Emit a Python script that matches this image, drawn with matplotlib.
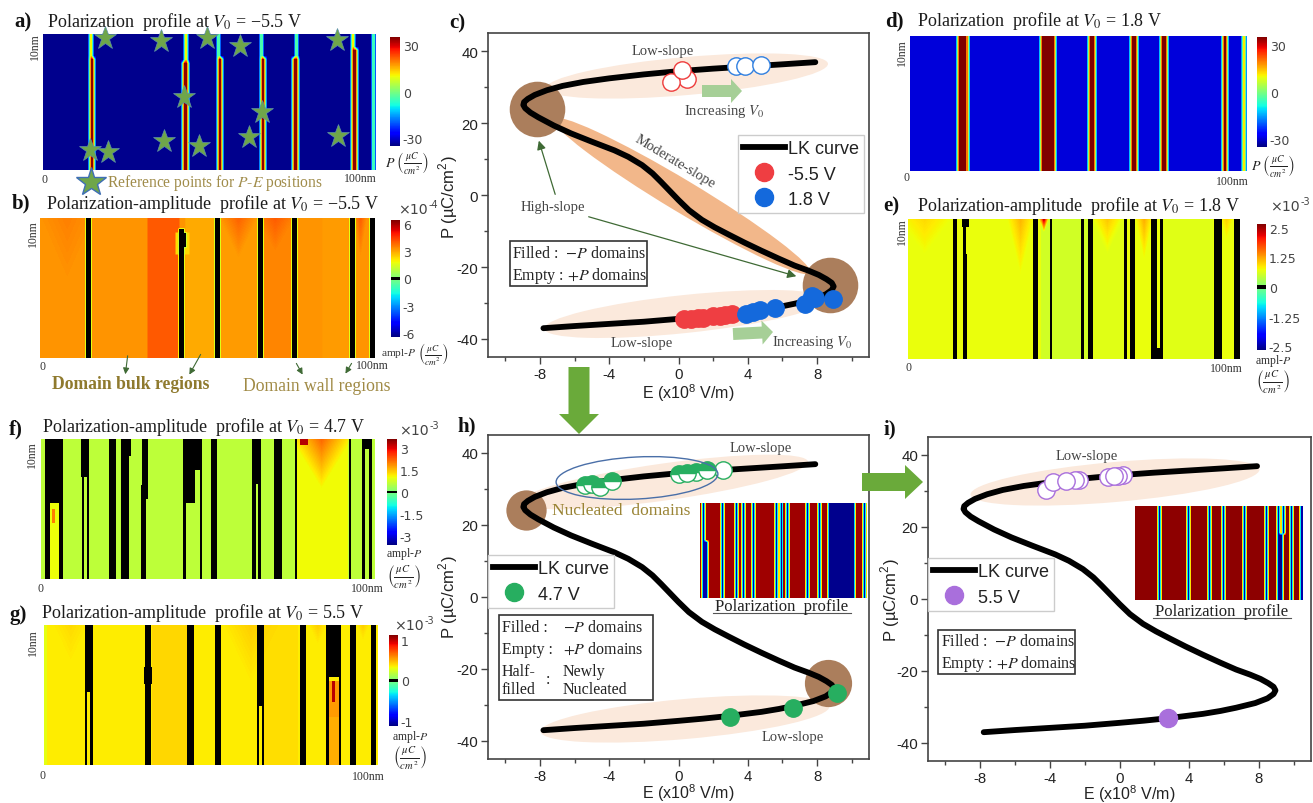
#!/usr/bin/env python3
"""
Composite figure: polarization / amplitude profiles and P-E (LK) curves, panels a-i
"""

import matplotlib
matplotlib.use('Agg')
import matplotlib.pyplot as plt
import matplotlib.patches as mpatches
import numpy as np
from matplotlib.colors import ListedColormap
from matplotlib.lines import Line2D
from matplotlib.patches import Ellipse

plt.rcParams['font.family'] = 'Liberation Serif'
plt.rcParams['mathtext.fontset'] = 'stix'
plt.rcParams['axes.unicode_minus'] = False

W, H = 1313, 804

# LK curve, E in 1e8 V/m and P in uC/cm2
lk_e = [7.9, 6.0, 4.0, 2.0, 0.0, -2.0, -4.0, -5.5, -6.7, -7.6, -8.3, -8.7, -8.92, -8.96, -8.85, -8.55, -8.1,
        -7.2, -6.2, -5.0, -3.7, -2.9, -2.1, -1.5, -1.0, -0.5, 0.0, 0.6, 1.35, 2.1, 2.9, 3.8,
        4.8, 5.8, 6.7, 7.5, 8.1, 8.55, 8.85, 8.96, 8.85, 8.5, 7.8, 6.7, 5.8, 4.8, 3.8, 2.8, 1.4, 0.0,
        -2.0, -4.0, -6.0, -7.8]
lk_p = [36.9, 36.3, 35.7, 35.1, 34.4, 33.5, 32.4, 31.4, 30.3, 29.1, 27.8, 26.7, 25.8, 25.0, 24.1, 22.9, 21.6,
        19.3, 17.1, 14.8, 12.4, 10.6, 8.3, 6.0, 3.6, 1.1, -1.4, -4.2, -6.9, -9.0, -11.0, -13.2,
        -15.5, -17.7, -19.6, -21.0, -22.2, -23.4, -24.4, -25.4, -26.4, -27.6, -28.9, -30.2, -31.1, -31.9, -32.5, -33.1, -33.8, -34.4,
        -35.2, -35.8, -36.4, -37.0]

# operating points panel c
c_red_open_e = [0.5, -0.45, 0.2]
c_red_open_p = [32.1, 31.4, 34.6]
c_blue_open_e = [3.3, 3.85, 4.75]
c_blue_open_p = [35.7, 35.7, 36.0]
c_red_e = [0.3, 0.7, 1.1, 1.4, 2.0, 2.4, 2.7, 3.1]
c_red_p = [-34.5, -34.4, -34.2, -34.2, -33.7, -33.6, -33.4, -33.0]
c_blue_e = [3.9, 4.3, 4.7, 5.6, 7.3, 7.7, 7.9, 8.9]
c_blue_p = [-33.0, -32.5, -32.0, -31.5, -30.2, -28.0, -28.5, -29.0]
c_high_e = [-8.15, 8.75]
c_high_p = [24.0, -25.0]

# operating points panel h
h_half_e = [-5.4, -5.0, -4.55, -3.85, 0.05, 1.0, 0.5, 1.67]
h_half_p = [31.0, 31.3, 30.6, 32.2, 34.3, 34.7, 34.5, 35.2]
h_open_e = [2.55]
h_open_p = [35.3]
h_filled_e = [3.0, 6.6, 9.15]
h_filled_p = [-33.3, -30.9, -26.6]
h_high_e = [-8.8, 8.65]
h_high_p = [24.2, -23.8]

# operating points panel i
i_open_e = [-4.25, -3.8, -2.35, -2.55, -3.1, 0.2, -0.67, -0.1, -0.3]
i_open_p = [30.4, 32.5, 33.1, 33.1, 32.9, 34.5, 34.0, 34.3, 34.3]
i_filled_e = [2.8]
i_filled_p = [-33.0]

# reference stars panel a, x in nm, y as fraction of the height from the top
star_x = [18.6, 35.4, 49.2, 59.1, 88.3, 42.2, 65.7, 88.6, 61.8, 36.3, 46.9, 14.1, 19.6]
star_y = [0.03, 0.054, 0.032, 0.091, 0.042, 0.462, 0.577, 0.749, 0.757, 0.786, 0.825, 0.852, 0.865]

# profile walls: (x0 nm, x1 nm, y0, y1, value)
walls_a = [(13.9, 14.7, 0, .17, 25), (13.8, 15.4, .17, 1, 34), (42.3, 43.1, 0, .2, 25), (41.7, 43.3, .2, 1, 34),
           (52.3, 53.1, 0, .17, 25), (52.4, 54.0, .17, 1, 34), (65.2, 66.0, 0, .17, 25), (65.3, 66.9, .17, 1, 34),
           (75.6, 76.4, 0, .17, 25), (75.0, 76.6, .17, 1, 34), (92.6, 93.4, 0, .1, 25), (92.6, 94.2, .1, 1, 34),
           (98.7, 99.3, 0, 1, 22)]
zones_b = [(32, 41.5, 4.0), (43.5, 52, 2.9), (53.5, 65, 3.1), (66.5, 75, 3.4), (84, 92, 3.1)]
wedges_b = [(8, 9, .5, 3.5), (59, 6, .3, 3.9), (70, 6, .25, 4.0), (95.5, 2, .3, 4.0)]
walls_b = [(40.5, 44.5, .1, .26, 2.3), (13.6, 15.4, 0, 1, 0), (41.4, 43.2, .07, 1, 0), (41.5, 43.8, .1, .21, 0), (51.9, 53.7, 0, 1, 0),
           (64.7, 66.5, 0, 1, 0), (74.9, 76.7, 0, 1, 0), (92.1, 93.9, 0, 1, 0), (98.1, 99.9, 0, 1, 0)]
walls_d = [(14.1, 17.1, 0, 1, 36), (38.7, 43.1, 0, 1, 36), (52.6, 54.8, 0, 1, 36), (65.3, 67.5, 0, 1, 36),
           (74.2, 76.4, 0, 1, 36), (92.5, 93.9, 0, 1, 36), (98.6, 99.3, 0, 1, 25)]
zones_e = [(40, 55, .55), (55, 65, .65), (77, 92, .65)]
wedges_e = [(5, 8, .25, .95), (34, 4, .4, 1.15), (41, 1.5, .1, 2.6), (60, 5, .25, 1.05), (71, 2.6, .3, 1.2), (96, 2, .15, 1.0)]
walls_e = [(13.6, 14.6, 0, 1, 0), (16.6, 17.6, .25, 1, 0), (16.2, 18.2, 0, .06, 0), (16.4, 17.4, 0, .25, 0), (37.7, 39.1, 0, 1, 0),
           (42.7, 43.5, 0, 1, 0), (52.1, 53.0, 0, 1, 0), (54.2, 55.6, 0, 1, 0), (65.0, 65.9, 0, 1, 0), (66.9, 68.3, 0, 1, 0),
           (73.2, 74.8, 0, 1, 0), (75.9, 76.9, 0, 1, 0), (73.5, 76.8, .92, 1, 0), (92.3, 94.7, 0, 1, 0), (98.3, 99.9, 0, 1, 0)]
zones_f = [(76.7, 92, 1.05), (2.7, 5.3, 1.0)]
wedges_f = [(84, 9, .35, 2.2)]
walls_f = [(77.5, 80, 0, .04, 3.3), (3.3, 4.3, .5, .6, 2.0), (1.3, 6.7, 0, .46, 0), (1.3, 2.7, 0, 1, 0), (5.3, 6.7, 0, 1, 0), (12, 14.5, 0, .27, 0), (12.2, 13, 0, 1, 0),
           (13.7, 14.5, 0, 1, 0), (20.3, 22.5, 0, 1, 0), (24.1, 26.3, 0, 1, 0), (24, 26.8, 0, .12, 0), (30.2, 32, 0, .33, 0),
           (30, 32, .33, .43, 0), (30, 31.5, .43, 1, 0), (42.5, 48.3, 0, .22, 0), (43.5, 46, .22, .46, 0), (42.5, 43.3, 0, 1, 0),
           (47.5, 48.3, 0, 1, 0), (50.9, 52.7, 0, 1, 0), (63.3, 65.8, 0, .32, 0), (63.3, 64.3, 0, 1, 0), (65, 65.8, 0, 1, 0),
           (69.8, 72.2, 0, 1, 0), (75.9, 76.7, 0, 1, 0), (92.1, 92.9, 0, 1, 0), (96.1, 99, 0, .07, 0), (96.1, 96.9, 0, 1, 0),
           (98.3, 99, 0, 1, 0)]
zones_g = [(32.3, 43, .41), (66, 76, .39), (0, 1.0, .28)]
wedges_g = [(8, 6, .3, .40), (62, 9, .45, .43), (82, 3, .15, .43), (95.5, 2, .12, .43)]
walls_g = [(12.8, 14.6, 0, .48, 0), (12.2, 13, 0, 1, 0), (13.8, 14.6, 0, 1, 0), (30.2, 32, 0, .3, 0), (30, 32.3, .3, .42, 0),
           (30.2, 31.9, .42, 1, 0), (42.9, 44.9, 0, 1, 0), (51.1, 53.1, 0, 1, 0), (64.2, 65.9, 0, .58, 0), (63.7, 64.5, 0, 1, 0),
           (65.3, 65.9, 0, 1, 0), (76.5, 78.3, 0, 1, 0), (84.5, 89, 0, .37, 0), (84.5, 85.3, 0, 1, 0), (88.2, 89, 0, 1, 0),
           (85.3, 88.2, .4, .66, .55), (85.3, 88.2, .66, 1, .5), (86.2, 87.2, .4, .55, 1.0), (91.7, 93.3, 0, 1, 0), (97.8, 99.5, 0, 1, 0)]
walls_h_inset = [(1, 4.5, .4, 1, -32), (1, 2.8, 0, .4, -32), (12.5, 14.3, 0, 1, -32), (20.9, 22.7, 0, 1, -32), (24.9, 26.7, 0, 1, -32),
                 (30.9, 32.7, 0, 1, -32), (44.8, 46.6, 0, 1, -32), (47.8, 49.6, 0, 1, -32), (51.8, 53.6, 0, 1, -32),
                 (63.7, 65.5, 0, 1, -32), (70.7, 72.5, 0, 1, -32), (76.7, 92.6, 0, 1, -34), (97.4, 99.2, 0, 1, -32)]
walls_i_inset = [(13.5, 15.3, 0, 1, -32), (30.8, 32.6, 0, 1, -32), (43.7, 45.5, 0, 1, -32), (51.7, 53.5, 0, 1, -32),
                 (64.2, 66, 0, 1, -32), (77.1, 78.9, 0, 1, -32), (84.5, 86.3, 0, 1, -32), (85.8, 88, .3, 1, -34),
                 (87.5, 89.3, 0, .3, -32), (92.4, 94.2, 0, 1, -32), (98.2, 100, 0, 1, -32)]

cb_ticks_a = [30, 0, -30]
cb_ticks_b = [6, 3, 0, -3, -6]
cb_ticks_e = [2.5, 1.25, 0, -1.25, -2.5]
cb_ticks_f = [3, 1.5, 0, -1.5, -3]
cb_ticks_g = [1, 0, -1]

# jet with a thin black band at zero, that is what draws the walls in the ampl-P maps
jet_vals = plt.get_cmap('jet')(np.linspace(0, 1, 512))
jet_vals[249:263] = [0, 0, 0, 1]
jet_black = ListedColormap(jet_vals)


def build_field(base, zones=(), wedges=(), walls=(), nx=334, ny=140, soft=2):
    # one cell is about one output pixel
    x = (np.arange(nx) + .5) / nx * 100
    y = (np.arange(ny) + .5) / ny
    grid = np.full((ny, nx), float(base))
    for x0, x1, v in zones:
        grid[:, (x >= x0) & (x < x1)] = v
    X, Y = np.meshgrid(x, y)
    for xc, half, depth, v in wedges:
        t = np.clip(1 - np.abs(X - xc) / half - Y / depth, 0, 1)
        grid = grid + t * (v - grid)
    for x0, x1, y0, y1, v in walls:
        grid[(X >= x0) & (X < x1) & (Y >= y0) & (Y < y1)] = v
    # soften along x and y, the source image is a blurred raster
    grid = np.pad(grid, soft, mode='edge')
    kernel = np.ones(soft) / soft
    grid = np.apply_along_axis(lambda r: np.convolve(r, kernel, mode='same'), 1, grid)
    grid = np.apply_along_axis(lambda c: np.convolve(c, kernel, mode='same'), 0, grid)
    return grid[soft:-soft, soft:-soft]


fig = plt.figure(figsize=(W / 100, H / 100), dpi=100, facecolor='white')


def px_axes(x0, y0, x1, y1, **kw):
    return fig.add_axes([x0 / W, 1 - y1 / H, (x1 - x0) / W, (y1 - y0) / H], **kw)


# overlay in reference pixels for labels and arrows
over = px_axes(0, 0, W, H, zorder=10)
over.set_xlim(0, W)
over.set_ylim(H, 0)
over.axis('off')


def txt(x, y, s, size=10, color='#222222', ha='left', **kw):
    return over.text(x, y, s, fontsize=size, color=color, ha=ha, va='center', **kw)


def heatmap(box, grid, vmax, cmap, cbox=None, ticks=None, **kw):
    ax = px_axes(*box, **kw)
    im = ax.imshow(grid, cmap=cmap, vmin=-vmax, vmax=vmax, extent=[0, 100, 1, 0],
                   aspect='auto', interpolation='nearest')
    ax.axis('off')
    if cbox is not None:
        cax = px_axes(*cbox)
        cb = fig.colorbar(im, cax=cax, ticks=ticks)
        cb.ax.set_yticklabels([f'{t:g}' for t in ticks], family='DejaVu Sans')
        cb.ax.tick_params(length=0, labelsize=9, labelcolor='#444444', pad=2)
        cb.outline.set_visible(False)
    return ax


jet = plt.get_cmap('jet')
ax_a = heatmap((43, 35, 376, 171), build_field(-34, walls=walls_a, soft=4), 35, jet, (390, 38, 400, 147), cb_ticks_a)
heatmap((40, 219, 375, 359), build_field(3.2, zones_b, wedges_b, walls_b), 6.4, jet_black, (391, 221, 400, 338), cb_ticks_b)
heatmap((910, 37, 1246, 172), build_field(-29.5, walls=walls_d, soft=4), 35, jet, (1257, 38, 1267, 148), cb_ticks_a)
heatmap((908, 220, 1240, 360), build_field(.72, zones_e, wedges_e, walls_e, soft=1), 2.65, jet_black, (1257, 225, 1266, 351), cb_ticks_e)
heatmap((41, 440, 375, 580), build_field(.58, zones_f, wedges_f, walls_f, soft=1), 3.65, jet_black, (387, 440, 397, 546), cb_ticks_f)
heatmap((44, 626, 377, 766), build_field(.35, zones_g, wedges_g, walls_g, soft=1), 1.12, jet_black, (389, 636, 398, 727), cb_ticks_g)

ax_a.plot(star_x, star_y, '*', ms=17, mfc='#6fa64a', mec='#5b8fa8', mew=.5, clip_on=False, zorder=5)
over.plot([91], [183], '*', ms=22, mfc='#6fa64a', mec='#3f6fb5', mew=1)

# titles and panel letters
title_kw = dict(size=13, color='#1c1c1c')
txt(47, 22, r'Polarization  profile at $V_0$ = −5.5 V', **title_kw)
txt(46, 204, r'Polarization-amplitude  profile at $V_0$ = −5.5 V', **title_kw)
txt(917, 21, r'Polarization  profile at $V_0$ = 1.8 V', **title_kw)
txt(917, 206, r'Polarization-amplitude  profile at $V_0$ = 1.8 V', **title_kw)
txt(42, 427, r'Polarization-amplitude  profile at $V_0$ = 4.7 V', **title_kw)
txt(41, 613, r'Polarization-amplitude  profile at $V_0$ = 5.5 V', **title_kw)
for x, y, s in [(14, 22, 'a)'), (12, 203, 'b)'), (449, 23, 'c)'), (885, 21, 'd)'), (883, 206, 'e)'),
                (9, 429, 'f)'), (9, 615, 'g)'), (457, 426, 'h)'), (884, 429, 'i)')]:
    txt(x, y, s, size=15, color='#111111', weight='bold')

# small axis marks on the profiles
for x, y in [(35, 47), (33, 234), (902, 53), (902, 232), (32, 455), (33, 643)]:
    txt(x, y, '10nm', size=8.5, ha='center', rotation=90, color='#333333')
for x, y in [(45, 180), (42, 367), (907, 178), (909, 368), (40, 589), (42, 776)]:
    txt(x, y, '0', size=8.5, ha='center', color='#333333')
for x, y in [(360, 179), (372, 366), (1232, 182), (1226, 369), (367, 589), (368, 777)]:
    txt(x, y, '100nm', size=8.5, ha='center', color='#333333')

# colorbar units and multipliers
frac = r'$\left(\frac{\mu C}{cm^2}\right)$'
txt(407, 163, r'$P$ ' + frac, size=10, ha='center')
txt(1273, 166, r'$P$ ' + frac, size=10, ha='center')
txt(381, 354, 'ampl-$P$', size=8.2, ha='left', color='#333333')
txt(433, 354, frac, size=9.5, ha='center')
txt(1273, 361, 'ampl-$P$', size=8.5, ha='center', color='#333333')
txt(1273, 383, frac, size=11, ha='center')
txt(404, 554, 'ampl-$P$', size=8.5, ha='center', color='#333333')
txt(404, 578, frac, size=11, ha='center')
txt(410, 737, 'ampl-$P$', size=8.5, ha='center', color='#333333')
txt(410, 759, frac, size=11, ha='center')
for x, y, exp in [(398, 210, '-4'), (1270, 207, '-3'), (399, 431, '-3'), (394, 626, '-3')]:
    txt(x, y, '×10', size=10.2, color='#444444', family='DejaVu Sans')
    txt(x + 31, y - 5, exp, size=7, color='#444444', family='DejaVu Sans')

txt(107, 183, r'Reference points for $P$-$E$ positions', size=11.2, color='#a08c4a')
txt(52, 385, 'Domain bulk regions', size=12.7, color='#8f7a2e', weight='bold')
txt(243, 387, 'Domain wall regions', size=12.7, color='#a08a45')
for tail, head in [((128, 354), (125, 378)), ((202, 353), (188, 378)), ((295, 362), (304, 378)), ((353, 362), (344, 377))]:
    over.annotate('', xy=head, xytext=tail,
                  arrowprops=dict(arrowstyle='-|>', color='#3f6a35', lw=.8, mutation_scale=9))


def pe_panel(box, xlabel_xy, ylabel_xy):
    ax = px_axes(*box)
    ax.set_xlim(-11, 11)
    ax.set_ylim(-45, 45)
    ax.set_xticks([-8, -4, 0, 4, 8])
    ax.set_xticks([-10, -6, -2, 2, 6, 10], minor=True)
    ax.set_yticks([-40, -20, 0, 20, 40])
    ax.set_yticks([-30, -10, 10, 30], minor=True)
    ax.tick_params(which='major', length=5, width=1, color='#444444', labelsize=10.8, pad=2, labelcolor='#222222')
    ax.tick_params(which='minor', length=3, width=1, color='#444444')
    for lab in ax.get_xticklabels() + ax.get_yticklabels():
        lab.set_family('Liberation Sans')
    for s in ax.spines.values():
        s.set_color('#444444')
        s.set_linewidth(1.2)
    ax.set_xlabel('E (x10$^{\\mathregular{8}}$ V/m)', family='Liberation Sans', fontsize=11.5, color='#222222', va='center')
    ax.xaxis.set_label_coords(*xlabel_xy, transform=over.transData)
    ax.set_ylabel('P (µC/cm$^{\\mathregular{2}}$)', family='Liberation Sans', fontsize=12, color='#222222', va='center')
    ax.yaxis.set_label_coords(*ylabel_xy, transform=over.transData)
    return ax


def band(ax, xy, w, h, angle, color='#fbe9dc', **kw):
    ax.add_patch(Ellipse(xy, w, h, angle=angle, facecolor=color, edgecolor='none',
                         transform=over.transData, zorder=1, **kw))


def curve(ax):
    ax.plot(lk_e, lk_p, color='black', lw=4.2, solid_capstyle='round', solid_joinstyle='round', zorder=3)


def legend(ax, xy, entries):
    handles = [Line2D([], [], color='black', lw=4.2, label='LK curve')]
    for col, lab in entries:
        handles.append(Line2D([], [], ls='', marker='o', ms=13, mfc=col, mec=col, label=lab))
    ax.legend(handles=handles, loc='upper left', bbox_to_anchor=xy, bbox_transform=over.transData,
              prop={'family': 'Liberation Sans', 'size': 13}, fancybox=False, framealpha=1,
              edgecolor='#cccccc', borderaxespad=0, borderpad=.3, handlelength=2.3, handletextpad=.15,
              labelspacing=.45, labelcolor='#222222')


def note_box(x0, y0, x1, y1):
    over.add_patch(mpatches.Rectangle((x0, y0), x1 - x0, y1 - y0, fc='white', ec='#333333', lw=1.2, zorder=1))


def dots(ax, xs, ys, face, edge, size=12.5, **kw):
    for x, y in zip(xs, ys):
        ax.plot([x], [y], 'o', ms=size, mfc=face, mec=edge, mew=1, zorder=4, **kw)


# panel c
ax_c = pe_panel((488, 34, 869, 358), (688, 393), (449, 197))
band(ax_c, (687, 77), 283, 38, -5)
band(ax_c, (685, 315), 283, 38, -6)
band(ax_c, (682, 197), 299, 32, 31, color='#f2b78a')
ax_c.plot(c_high_e, c_high_p, 'o', ms=40, color='#ab7e5c', mec='none', zorder=2)
curve(ax_c)
dots(ax_c, c_red_open_e, c_red_open_p, 'white', '#ee3b3b')
dots(ax_c, c_blue_open_e, c_blue_open_p, 'white', '#2f7fe0')
dots(ax_c, c_red_e, c_red_p, '#ef3e42', '#ef3e42')
dots(ax_c, c_blue_e, c_blue_p, '#1469dc', '#1469dc')
legend(ax_c, (738, 136), [('#ef3e42', '-5.5 V'), ('#1469dc', '1.8 V')])

note_box(510, 242, 647, 287)
txt(512, 254, r'Filled :  $-P$ domains', size=11.5)
txt(512, 276, r'Empty : $+P$ domains', size=11.5)
slope_kw = dict(size=10.5, color='#444444', ha='center')
txt(663, 51, 'Low-slope', **slope_kw)
txt(642, 344, 'Low-slope', **slope_kw)
txt(553, 208, 'High-slope', **slope_kw)
txt(675, 162, 'Moderate-slope', rotation=-31, rotation_mode='anchor', **slope_kw)
txt(724, 112, r'Increasing $V_0$', **slope_kw)
txt(812, 343, r'Increasing $V_0$', **slope_kw)
for tail, head in [((556, 198), (538, 139)), ((586, 217), (799, 278))]:
    over.annotate('', xy=head, xytext=tail,
                  arrowprops=dict(arrowstyle='-|>', color='#3f6a35', lw=.9, mutation_scale=13))

# panel h
ax_h = pe_panel((488, 436, 869, 760), (688, 793), (449, 597))
band(ax_h, (664, 483), 291, 37, -8)
band(ax_h, (685, 720), 290, 40, -5)
ax_h.plot(h_high_e[:1], h_high_p[:1], 'o', ms=29, color='#ab7e5c', mec='none', zorder=2)
ax_h.plot(h_high_e[1:], h_high_p[1:], 'o', ms=34, color='#ab7e5c', mec='none', zorder=2)
curve(ax_h)
over.add_patch(Ellipse((637, 479), 162, 42, angle=-3, fc='none', ec='#4a6fa8', lw=1))
dots(ax_h, h_open_e, h_open_p, 'white', '#27ae60')
dots(ax_h, h_half_e, h_half_p, '#27ae60', '#27ae60', fillstyle='top', markerfacecoloralt='white')
dots(ax_h, h_filled_e, h_filled_p, '#27ae60', '#27ae60')
legend(ax_h, (488, 556), [('#27ae60', '4.7 V')])
heatmap((700, 504, 867, 599), build_field(33, walls=walls_h_inset, nx=168, ny=95, soft=3), 35, jet, zorder=5)

note_box(499, 616, 653, 701)
for x, y, s in [(502, 628, 'Filled :'), (563, 628, r'$-P$ domains'), (502, 650, 'Empty :'), (563, 650, r'$+P$ domains'),
                (502, 672, 'Half-'), (502, 690, 'filled'), (546, 680, ':'), (563, 672, 'Newly'), (563, 690, 'Nucleated')]:
    txt(x, y, s, size=11.5)
txt(761, 449, 'Low-slope', **slope_kw)
txt(793, 738, 'Low-slope', **slope_kw)
txt(621, 511, 'Nucleated  domains', size=12.5, color='#9a8435', ha='center')
txt(782, 607, 'Polarization  profile', size=12, ha='center')
over.plot([713, 851], [614, 614], color='#555555', lw=.8)

# panel i
ax_i = pe_panel((928, 438, 1311, 762), (1129, 794), (891, 600))
band(ax_i, (1115, 483), 290, 40, -5)
curve(ax_i)
dots(ax_i, i_open_e, i_open_p, 'white', '#a96fdc')
dots(ax_i, i_filled_e, i_filled_p, '#a96fdc', '#a96fdc', size=13)
legend(ax_i, (928, 559), [('#a96fdc', '5.5 V')])
heatmap((1135, 507, 1303, 601), build_field(34, walls=walls_i_inset, nx=168, ny=95, soft=3), 35, jet, zorder=5)

note_box(938, 631, 1075, 675)
txt(941, 642, r'Filled :  $-P$ domains', size=11.5)
txt(941, 664, r'Empty : $+P$ domains', size=11.5)
txt(1087, 457, 'Low-slope', **slope_kw)
txt(1222, 612, 'Polarization  profile', size=12, ha='center')
over.plot([1153, 1291], [619, 619], color='#555555', lw=.8)

# block arrows
arrow_kw = dict(length_includes_head=True, edgecolor='none')
over.add_patch(mpatches.FancyArrow(702, 92, 40, 0, width=12, head_width=24, head_length=11, facecolor='#a6cf97', **arrow_kw))
over.add_patch(mpatches.FancyArrow(733, 335, 40, -2, width=12, head_width=24, head_length=11, facecolor='#a6cf97', **arrow_kw))
over.add_patch(mpatches.FancyArrow(579, 368, 0, 67, width=21, head_width=40, head_length=20, facecolor='#6aaa3a', **arrow_kw))
over.add_patch(mpatches.FancyArrow(862, 483, 61, 0, width=18, head_width=34, head_length=18, facecolor='#6aaa3a', **arrow_kw))

fig.savefig('out.png', dpi=100, facecolor='white')
plt.close(fig)
